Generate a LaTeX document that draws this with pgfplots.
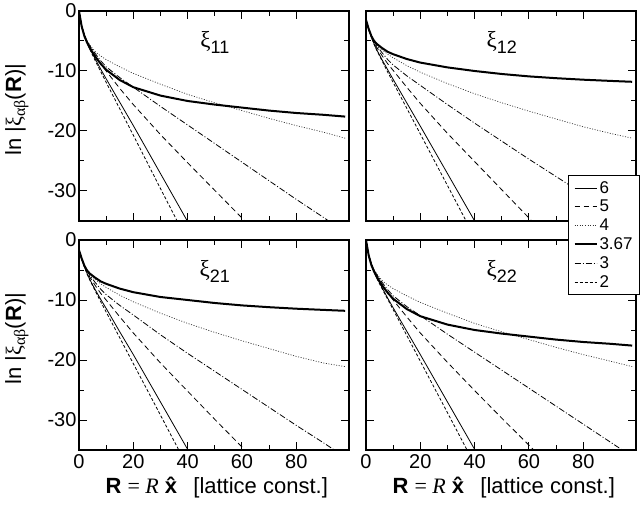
\documentclass[border=0pt]{standalone}
\usepackage{pgfplots}
\pgfplotsset{compat=1.18}
\usepackage{pgfplotstable}
\usepackage{fontspec}
\setmainfont{Liberation Sans}
\newfontfamily\serif{Liberation Serif}

% xi_11
\pgfplotstableread{
x    s6     s5     s4     t      s3     s2
0    0      0      0      0      0      0
1   -2.6   -2.5   -2.5   -2.6   -2.5   -2.6
2   -4.1   -4.0   -4.0   -4.2   -4.0   -4.1
3   -5.3   -5.1   -5.0   -5.3   -5.0   -5.3
4   -6.3   -6.0   -5.7   -6.2   -5.8   -6.4
6   -8.0   -7.5   -6.8   -7.6   -7.1   -8.3
8   -9.7   -8.8   -7.5   -8.8   -8.3   -10.1
10  -11.3  -10.0  -8.1   -9.8   -9.3   -11.9
15  -15.2  -12.9  -9.3   -11.5  -11.1  -16.3
20  -19.1  -15.6  -10.4  -12.7  -12.7  -20.7
30  -27.1  -20.6  -12.2  -14.1  -15.9  -29.6
40  -35.1  -25.3  -13.9  -15.0  -19.0  -38.4
50  -43.1  -29.9  -15.3  -15.6  -22.1  -47.2
60  -51.0  -34.5  -16.6  -16.1  -25.2  -56.0
70  -59.0  -39.3  -17.9  -16.6  -28.3  -65.0
80  -67.0  -44.0  -19.1  -17.0  -31.4  -74.0
90  -75.0  -48.8  -20.2  -17.3  -34.4  -83.0
98  -81.5  -52.6  -21.2  -17.6  -36.9  -90.0
}\tA
% xi_12
\pgfplotstableread{
x    s6     s5     s4     t      s3     s2
0   -1.5   -1.5   -1.5   -1.5   -1.5   -1.5
1   -3.1   -3.0   -3.0   -3.0   -3.0   -3.1
2   -4.4   -4.3   -4.2   -4.2   -4.2   -4.4
3   -5.5   -5.3   -5.0   -5.0   -5.1   -5.6
4   -6.5   -6.1   -5.6   -5.5   -5.8   -6.6
6   -8.2   -7.5   -6.5   -6.2   -7.0   -8.4
8   -9.8   -8.8   -7.2   -6.8   -8.1   -10.2
10  -11.4  -9.9   -7.8   -7.2   -9.0   -11.9
15  -15.3  -12.7  -9.1   -8.0   -10.8  -16.2
20  -19.2  -15.4  -10.2  -8.6   -12.4  -20.5
30  -27.1  -20.4  -12.1  -9.4   -15.6  -29.1
40  -35.0  -25.1  -13.8  -10.0  -18.7  -37.7
50  -43.0  -29.8  -15.3  -10.5  -21.7  -46.3
60  -51.0  -34.5  -16.7  -10.9  -24.7  -55.0
70  -59.0  -39.3  -18.0  -11.2  -27.6  -64.0
80  -67.0  -44.0  -19.3  -11.45 -30.5  -72.0
90  -75.0  -48.8  -20.4  -11.65 -33.4  -81.0
98  -81.0  -52.6  -21.2  -11.8  -35.7  -88.0
}\tB
% xi_21
\pgfplotstableread{
x    s6     s5     s4     t      s3     s2
0   -1.7   -1.7   -1.7   -1.7   -1.7   -1.7
1   -3.2   -3.1   -3.1   -3.1   -3.1   -3.2
2   -4.5   -4.4   -4.3   -4.3   -4.3   -4.5
3   -5.6   -5.4   -5.1   -5.1   -5.2   -5.7
4   -6.6   -6.2   -5.7   -5.6   -5.9   -6.7
6   -8.3   -7.6   -6.6   -6.3   -7.1   -8.5
8   -9.9   -8.9   -7.3   -6.9   -8.2   -10.3
10  -11.4  -10.0  -7.9   -7.3   -9.1   -12.0
15  -15.3  -12.8  -9.2   -8.1   -10.9  -16.3
20  -19.1  -15.5  -10.3  -8.7   -12.5  -20.6
30  -27.0  -20.5  -12.2  -9.5   -15.8  -29.2
40  -34.9  -25.2  -13.9  -10.0  -18.9  -37.8
50  -42.9  -29.9  -15.4  -10.5  -21.9  -46.4
60  -50.9  -34.5  -16.8  -10.9  -24.9  -55.0
70  -58.9  -39.2  -18.1  -11.2  -27.9  -64.0
80  -66.9  -43.9  -19.4  -11.45 -30.9  -72.0
90  -74.9  -48.6  -20.5  -11.65 -33.8  -81.0
98  -81.0  -52.4  -21.1  -11.8  -36.2  -88.0
}\tC
% xi_22
\pgfplotstableread{
x    s6     s5     s4     t      s3     s2
0    0      0      0      0      0      0
1   -2.6   -2.5   -2.5   -2.6   -2.5   -2.6
2   -4.1   -4.0   -4.0   -4.2   -4.0   -4.1
3   -5.3   -5.1   -5.0   -5.3   -5.0   -5.3
4   -6.3   -6.0   -5.7   -6.2   -5.8   -6.4
6   -8.0   -7.5   -6.8   -7.6   -7.1   -8.2
8   -9.7   -8.8   -7.5   -8.8   -8.3   -9.9
10  -11.3  -10.0  -8.1   -9.8   -9.3   -11.6
15  -15.2  -12.8  -9.3   -11.5  -11.1  -15.9
20  -19.1  -15.5  -10.4  -12.7  -12.6  -20.2
30  -27.0  -20.4  -12.2  -14.1  -15.7  -28.8
40  -34.9  -25.1  -13.9  -15.0  -18.7  -37.4
50  -42.9  -29.7  -15.3  -15.6  -21.7  -46.0
60  -50.9  -34.2  -16.6  -16.1  -24.7  -54.6
70  -58.9  -38.8  -17.9  -16.6  -27.7  -63.2
80  -66.9  -43.4  -19.1  -17.0  -30.7  -71.8
90  -74.9  -48.0  -20.2  -17.3  -33.7  -80.4
98  -81.3  -51.7  -21.1  -17.6  -36.1  -87.3
}\tD

\pgfplotsset{
  panel/.style={
    width=270pt, height=210pt, scale only axis,
    xmin=0, xmax=99.4, ymin=-35, ymax=0,
    xtick={0,20,40,60,80}, ytick={-30,-20,-10,0},
    minor x tick num=1, minor y tick num=1,
    major tick length=8pt, minor tick length=5pt,
    axis line style={line width=1.2pt},
    every tick/.style={black, line width=1pt},
    tick label style={font=\fontsize{20}{22}\selectfont},
    yticklabel style={xshift=1pt},
    xticklabel style={yshift=-1pt},
    /pgf/number format/assume math mode=true,
    legend image code/.code={\draw[##1] (0pt,0pt) -- (22pt,0pt);},
  },
  s6/.style={black, line width=0.8pt},
  s5/.style={black, line width=0.8pt, dash pattern=on 5.5pt off 3.5pt},
  s4/.style={black!80, line width=0.7pt, dash pattern=on 1pt off 1.6pt},
  st/.style={black, line width=2pt},
  s3/.style={black, line width=0.8pt, dash pattern=on 6pt off 2pt on 1pt off 2pt},
  s2/.style={black, line width=0.8pt, dash pattern=on 3pt off 2pt},
  ylab/.style={ylabel={ln |{\serif ξ}\raisebox{-4pt}{\fontsize{16}{17}\selectfont\serif αβ}(\textbf{R})|},
    ylabel style={font=\fontsize{22}{24}\selectfont, at={(axis description cs:-0.23,0.53)}, anchor=center}},
  xlab/.style={xlabel={\textbf{R} {\serif = \textit{R}} \textbf{x\char"0302}\ \ [lattice const.]},
    xlabel style={font=\fontsize{22}{24}\selectfont, at={(axis description cs:0.51,-0.18)}, anchor=center}},
}

\newcommand{\xilab}[1]{\node at (axis cs:50,-5.3) {{\fontsize{23}{24}\selectfont\serif ξ}\raisebox{-6pt}{\fontsize{18}{20}\selectfont #1}};}

\begin{document}
\begin{tikzpicture}
\begin{axis}[panel, ylab, xticklabels={}, at={(0pt,0pt)}, anchor=north west]
  \addplot[s6] table[x=x,y=s6]{\tA};
  \addplot[s5] table[x=x,y=s5]{\tA};
  \addplot[s4] table[x=x,y=s4]{\tA};
  \addplot[st] table[x=x,y=t]{\tA};
  \addplot[s3] table[x=x,y=s3]{\tA};
  \addplot[s2] table[x=x,y=s2]{\tA};
  \xilab{11}
\end{axis}
\begin{axis}[panel, xticklabels={}, yticklabels={}, at={(287pt,0pt)}, anchor=north west]
  \addplot[s6] table[x=x,y=s6]{\tB};
  \addplot[s5] table[x=x,y=s5]{\tB};
  \addplot[s4] table[x=x,y=s4]{\tB};
  \addplot[st] table[x=x,y=t]{\tB};
  \addplot[s3] table[x=x,y=s3]{\tB};
  \addplot[s2] table[x=x,y=s2]{\tB};
  \xilab{12}
\end{axis}
\begin{axis}[panel, ylab, xlab, at={(0pt,-229pt)}, anchor=north west]
  \addplot[s6] table[x=x,y=s6]{\tC};
  \addplot[s5] table[x=x,y=s5]{\tC};
  \addplot[s4] table[x=x,y=s4]{\tC};
  \addplot[st] table[x=x,y=t]{\tC};
  \addplot[s3] table[x=x,y=s3]{\tC};
  \addplot[s2] table[x=x,y=s2]{\tC};
  \xilab{21}
\end{axis}
\begin{axis}[panel, xlab, yticklabels={}, at={(287pt,-229pt)}, anchor=north west,
  legend style={at={(1.0148,1.3095)}, anchor=north east, draw=black, line width=0.8pt,
    fill=white, font=\fontsize{17}{18}\selectfont, row sep=1.5pt, inner xsep=5pt, inner ysep=4pt},
  legend cell align=left]
  \addplot[s6] table[x=x,y=s6]{\tD}; \addlegendentry{6}
  \addplot[s5] table[x=x,y=s5]{\tD}; \addlegendentry{5}
  \addplot[s4] table[x=x,y=s4]{\tD}; \addlegendentry{4}
  \addplot[st] table[x=x,y=t]{\tD}; \addlegendentry{3.67}
  \addplot[s3] table[x=x,y=s3]{\tD}; \addlegendentry{3}
  \addplot[s2] table[x=x,y=s2]{\tD}; \addlegendentry{2}
  \xilab{22}
\end{axis}
\pgfresetboundingbox
\path (-79pt,11pt) rectangle (561pt,-493pt);
\end{tikzpicture}
\end{document}
